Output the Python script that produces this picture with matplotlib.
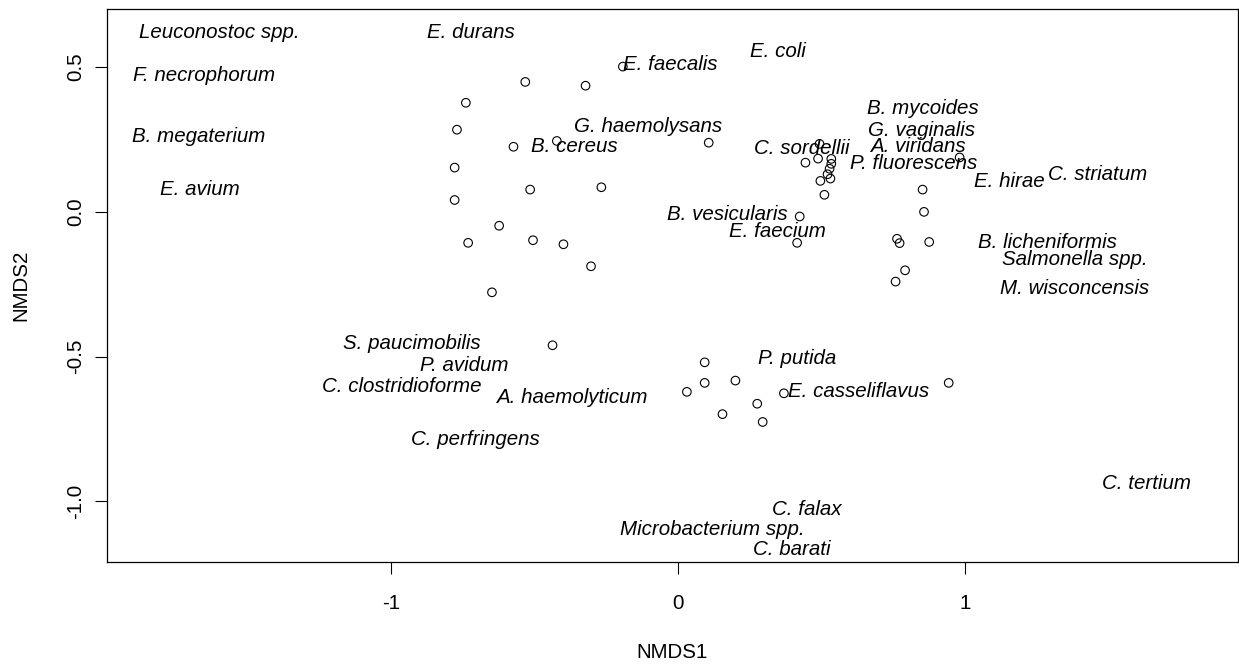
import matplotlib
matplotlib.use("Agg")
import matplotlib.pyplot as plt

plt.rcParams['font.family'] = ['Liberation Sans', 'DejaVu Sans']

# Site scores (open circles)
site_x = [-0.533, -0.323, -0.193, -0.740, -0.771, -0.574, -0.423, 0.106, -0.779, -0.516,
          -0.268, -0.779, -0.624, -0.732, -0.506, -0.400, -0.304, -0.649, -0.438,
          0.443, 0.487, 0.492, 0.533, 0.533, 0.527, 0.520, 0.530, 0.495, 0.509, 0.423, 0.414,
          0.980, 0.851, 0.856, 0.762, 0.771, 0.874, 0.790, 0.757,
          0.092, 0.092, 0.030, 0.199, 0.154, 0.275, 0.294, 0.368, 0.942]
site_y = [0.449, 0.436, 0.502, 0.377, 0.284, 0.225, 0.245, 0.239, 0.153, 0.077,
          0.085, 0.041, -0.048, -0.107, -0.098, -0.112, -0.188, -0.278, -0.461,
          0.170, 0.184, 0.235, 0.183, 0.166, 0.149, 0.130, 0.115, 0.107, 0.059, -0.016, -0.107,
          0.188, 0.077, 0.000, -0.093, -0.108, -0.104, -0.202, -0.241,
          -0.520, -0.591, -0.622, -0.583, -0.699, -0.663, -0.726, -0.627, -0.591]

# Species scores (text labels)
species = ["Leuconostoc spp.", "F. necrophorum", "B. megaterium", "E. avium", "E. durans",
           "E. faecalis", "E. coli", "G. haemolysans", "B. cereus", "C. sordellii",
           "B. mycoides", "G. vaginalis", "A. viridans", "P. fluorescens", "E. hirae",
           "C. striatum", "B. vesicularis", "E. faecium", "B. licheniformis", "Salmonella spp.",
           "M. wisconcensis", "S. paucimobilis", "P. avidum", "C. clostridioforme",
           "A. haemolyticum", "C. perfringens", "P. putida", "E. casseliflavus",
           "C. tertium", "C. falax", "Microbacterium spp.", "C. barati"]
spec_x = [-1.599, -1.652, -1.669, -1.667, -0.721, -0.028, 0.348, -0.106, -0.362, 0.430,
          0.852, 0.848, 0.836, 0.819, 1.153, 1.462, 0.171, 0.345, 1.287, 1.380,
          1.380, -0.929, -0.744, -0.965, -0.371, -0.707, 0.413, 0.629,
          1.632, 0.446, 0.120, 0.394]
spec_y = [0.626, 0.480, 0.266, 0.083, 0.626, 0.518, 0.563, 0.301, 0.232, 0.225,
          0.363, 0.287, 0.232, 0.176, 0.111, 0.135, -0.003, -0.059, -0.100, -0.159,
          -0.256, -0.449, -0.525, -0.595, -0.636, -0.778, -0.501, -0.615,
          -0.933, -1.020, -1.092, -1.158]

xticks = [-1, 0, 1]
yticks = [-1.0, -0.5, 0.0, 0.5]
ytick_labels = ["-1.0", "-0.5", "0.0", "0.5"]

fig = plt.figure(figsize=(12.39, 6.64), dpi=100)
ax = fig.add_axes([107/1239, 1 - 562.3/664, (1237.5-107)/1239, (562.3-9.3)/664])

ax.scatter(site_x, site_y, s=38, facecolors='none', edgecolors='black', linewidths=0.8, zorder=2)
for name, x, y in zip(species, spec_x, spec_y):
    ax.annotate(name, xy=(x, y), xytext=(0, -1.5), textcoords='offset points',
                fontsize=14.8, style='italic', ha='center', va='center',
                color='black', zorder=3)

ax.set_xlim(-1.99, 1.948)
ax.set_ylim(-1.211, 0.70)
ax.set_xticks(xticks)
ax.set_xticklabels([str(t) for t in xticks])
ax.set_yticks(yticks)
ax.set_yticklabels(ytick_labels, rotation=90, va='center')
ax.tick_params(axis='both', direction='out', length=8.6, width=0.8, labelsize=14.8,
               color='black')
ax.tick_params(axis='x', pad=14)
ax.tick_params(axis='y', pad=7)
for s in ax.spines.values():
    s.set_linewidth(0.9)
    s.set_color('black')
ax.set_xlabel("NMDS1", fontsize=14.8, labelpad=22)
ax.set_ylabel("NMDS2", fontsize=14.8, labelpad=26)

fig.savefig("out.png", dpi=100)
